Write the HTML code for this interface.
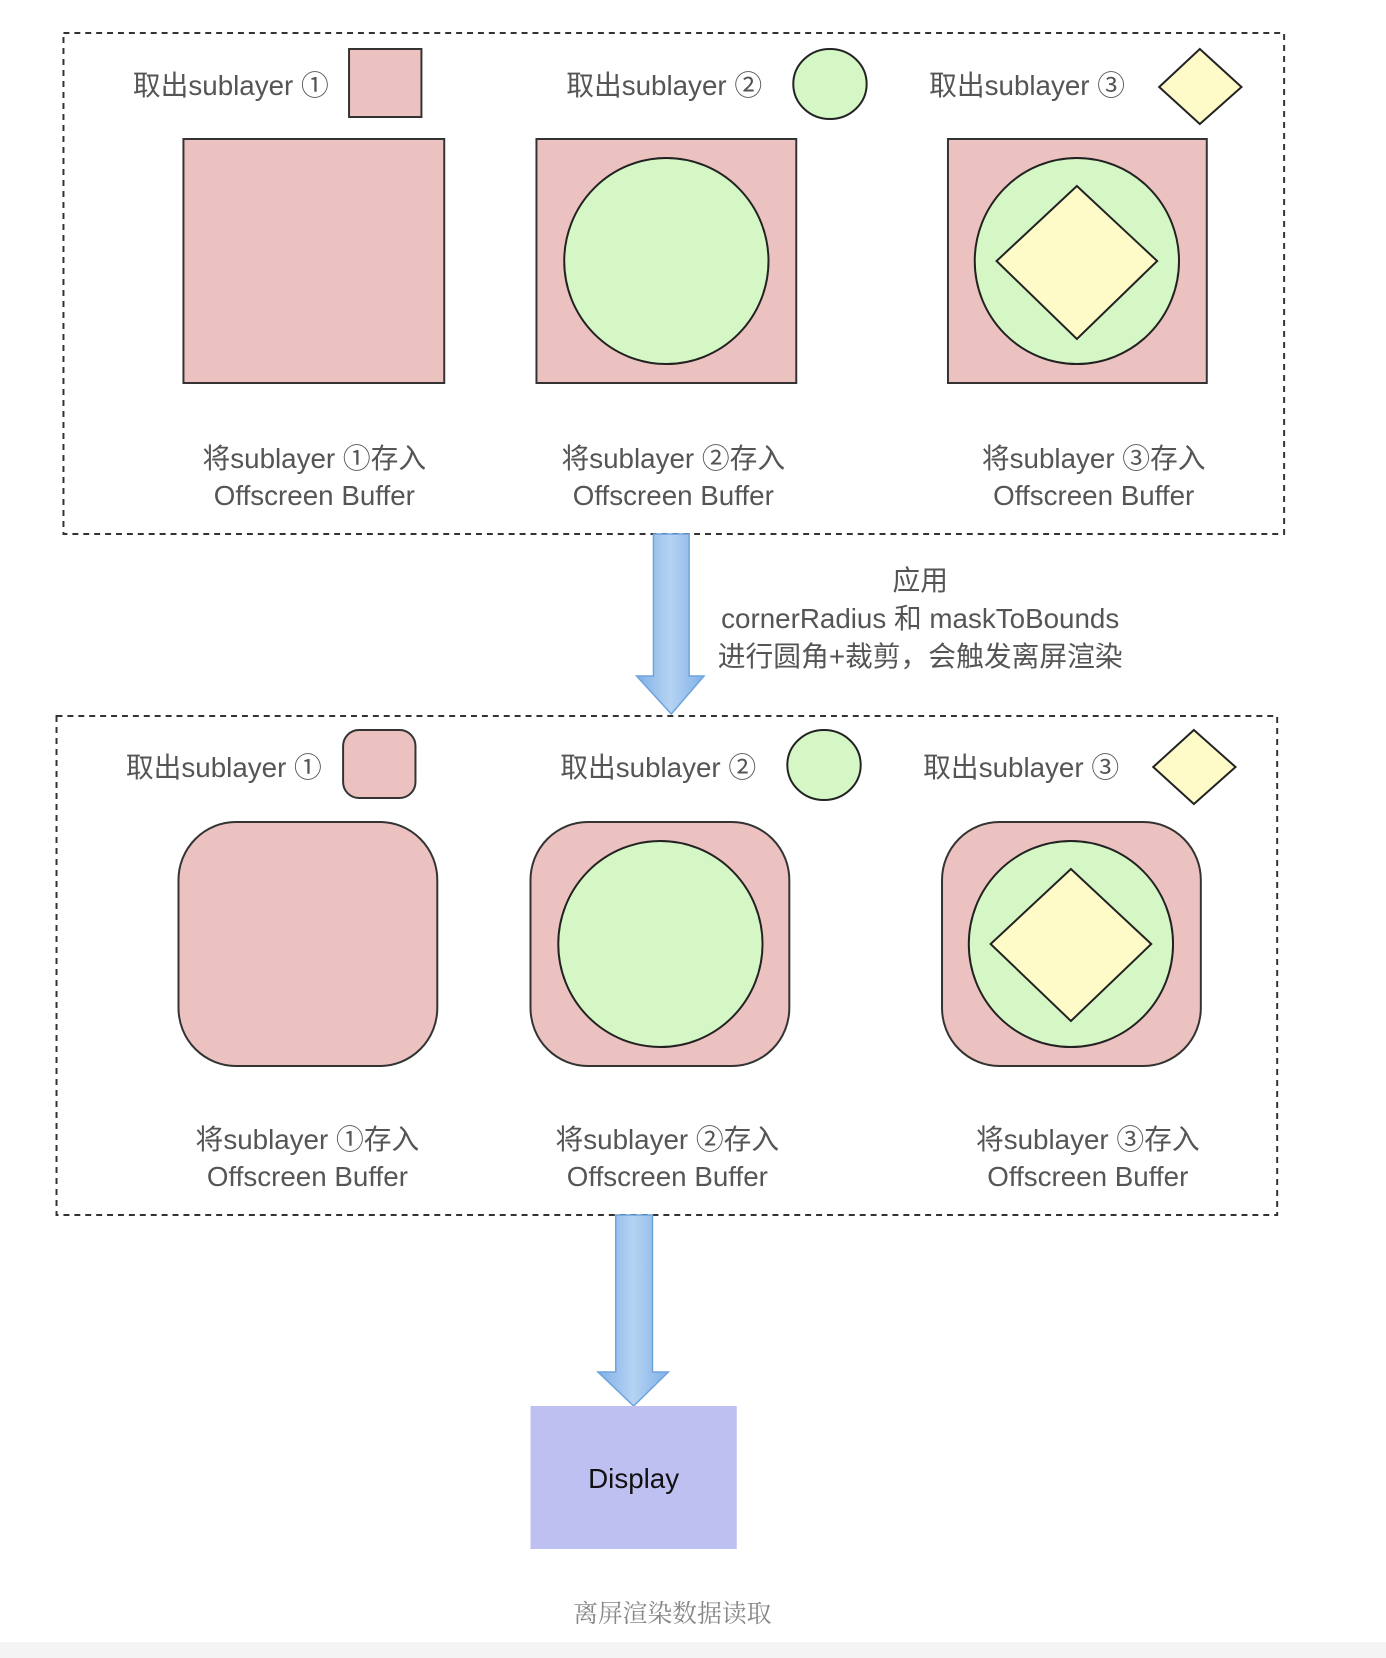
<!DOCTYPE html>
<html><head><meta charset="utf-8"><style>
html,body{margin:0;padding:0;background:#fff;}
svg{display:block;}
.t{font-family:"Liberation Sans","Noto Sans CJK SC",sans-serif;font-size:28px;fill:#555;}
</style></head><body>
<svg width="1386" height="1658" viewBox="0 0 1386 1658" xmlns="http://www.w3.org/2000/svg">
<defs>
<linearGradient id="g" x1="0" x2="1" y1="0" y2="0">
<stop offset="0" stop-color="#7fb0e6"/><stop offset="0.5" stop-color="#b5d3f3"/><stop offset="1" stop-color="#7fb0e6"/>
</linearGradient>
</defs>
<rect x="0" y="1642" width="1386" height="16" fill="#f4f4f4"/>
<g transform="scale(0.9916,1)">
<!-- top box -->
<rect x="64" y="33" width="1231" height="501" fill="none" stroke="#333" stroke-width="2" stroke-dasharray="6,5"/>
<text class="t" x="134" y="95">取出sublayer ①</text>
<text class="t" x="571" y="95">取出sublayer ②</text>
<text class="t" x="937" y="95">取出sublayer ③</text>
<rect x="352" y="49" width="73" height="68" fill="#ecc2c0" stroke="#333" stroke-width="2"/>
<ellipse cx="837" cy="84" rx="37" ry="35" fill="#d5f7c6" stroke="#222" stroke-width="2"/>
<polygon points="1210,49 1252,87 1210,124 1169,87" fill="#fffbc8" stroke="#222" stroke-width="2"/>
<rect x="185" y="139" width="263" height="244" fill="#ecc2c0" stroke="#333" stroke-width="2"/>
<rect x="541" y="139" width="262" height="244" fill="#ecc2c0" stroke="#333" stroke-width="2"/>
<ellipse cx="672" cy="261" rx="103" ry="103" fill="#d5f7c6" stroke="#222" stroke-width="2"/>
<rect x="956" y="139" width="261" height="244" fill="#ecc2c0" stroke="#333" stroke-width="2"/>
<ellipse cx="1086" cy="261" rx="103" ry="103" fill="#d5f7c6" stroke="#222" stroke-width="2"/>
<polygon points="1086,186 1167,261 1086,339 1005,261" fill="#fffbc8" stroke="#222" stroke-width="2"/>
<g class="t" text-anchor="middle">
<text x="317" y="468">将sublayer ①存入</text><text x="317" y="505">Offscreen Buffer</text>
<text x="679" y="468">将sublayer ②存入</text><text x="679" y="505">Offscreen Buffer</text>
<text x="1103" y="468">将sublayer ③存入</text><text x="1103" y="505">Offscreen Buffer</text>
</g>
<!-- arrow 1 -->
<polygon points="659,534 695,534 695,676 710,676 677,714 642,676 659,676" fill="url(#g)" stroke="#6fa3dc" stroke-width="1.5"/>
<g class="t" text-anchor="middle">
<text x="928" y="590">应用</text>
<text x="928" y="628">cornerRadius 和 maskToBounds</text>
<text x="928" y="666">进行圆角+裁剪，会触发离屏渲染</text>
</g>
<!-- bottom box -->
<rect x="57" y="716" width="1231" height="499" fill="none" stroke="#333" stroke-width="2" stroke-dasharray="6,5"/>
<text class="t" x="127" y="777">取出sublayer ①</text>
<text class="t" x="565" y="777">取出sublayer ②</text>
<text class="t" x="931" y="777">取出sublayer ③</text>
<rect x="346" y="730" width="73" height="68" rx="16" fill="#ecc2c0" stroke="#333" stroke-width="2"/>
<ellipse cx="831" cy="765" rx="37" ry="35" fill="#d5f7c6" stroke="#222" stroke-width="2"/>
<polygon points="1204,730 1246,767 1204,804 1163,767" fill="#fffbc8" stroke="#222" stroke-width="2"/>
<rect x="180" y="822" width="261" height="244" rx="58" fill="#ecc2c0" stroke="#333" stroke-width="2"/>
<rect x="535" y="822" width="261" height="244" rx="58" fill="#ecc2c0" stroke="#333" stroke-width="2"/>
<ellipse cx="666" cy="944" rx="103" ry="103" fill="#d5f7c6" stroke="#222" stroke-width="2"/>
<rect x="950" y="822" width="261" height="244" rx="58" fill="#ecc2c0" stroke="#333" stroke-width="2"/>
<ellipse cx="1080" cy="944" rx="103" ry="103" fill="#d5f7c6" stroke="#222" stroke-width="2"/>
<polygon points="1080,869 1161,944 1080,1021 999,944" fill="#fffbc8" stroke="#222" stroke-width="2"/>
<g class="t" text-anchor="middle">
<text x="310" y="1149">将sublayer ①存入</text><text x="310" y="1186">Offscreen Buffer</text>
<text x="673" y="1149">将sublayer ②存入</text><text x="673" y="1186">Offscreen Buffer</text>
<text x="1097" y="1149">将sublayer ③存入</text><text x="1097" y="1186">Offscreen Buffer</text>
</g>
<!-- arrow 2 -->
<polygon points="621,1215 658,1215 658,1372 674,1372 639,1406 603,1372 621,1372" fill="url(#g)" stroke="#6fa3dc" stroke-width="1.5"/>
<rect x="535" y="1406" width="208" height="143" fill="#bfc0f2"/>
<text x="639" y="1488" text-anchor="middle" style="font-family:'Liberation Sans',sans-serif;font-size:28px;fill:#111;">Display</text>
<text x="678" y="1622" text-anchor="middle" style="font-family:'Liberation Serif','Noto Serif CJK SC',serif;font-size:25px;fill:#888;">离屏渲染数据读取</text>
</g>
</svg>
</body></html>
